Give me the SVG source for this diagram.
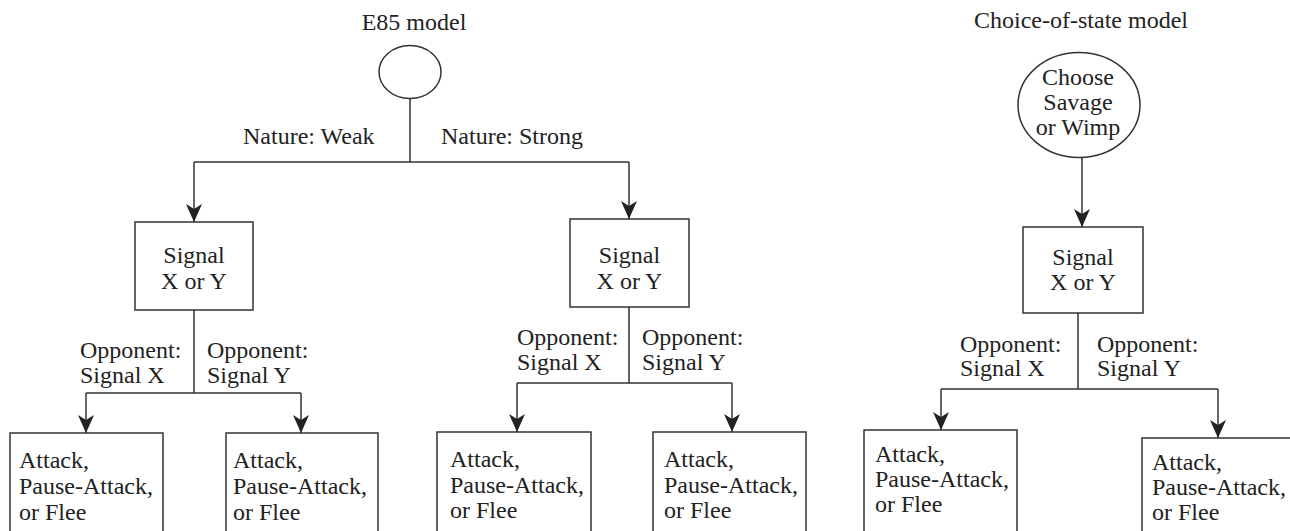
<svg xmlns="http://www.w3.org/2000/svg" width="1290" height="531" viewBox="0 0 1290 531">
<style>
text{font-family:"Liberation Serif","Times New Roman",serif;font-size:24px;fill:#222}
.c{text-anchor:middle}
.box{fill:#fff;stroke:#333;stroke-width:1.5}
.ln{fill:none;stroke:#333;stroke-width:1.5}
.ar{fill:none;stroke:#333;stroke-width:1.5;marker-end:url(#arr)}
</style>
<defs>
<marker id="arr" viewBox="0 0 18 16" refX="18" refY="8" markerWidth="18" markerHeight="16" orient="auto" markerUnits="userSpaceOnUse">
<path d="M0,0 L18,8 L0,16 L5,8 Z" fill="#222"/>
</marker>
</defs>
<rect width="1290" height="531" fill="#fff"/>
<g id="titles">
<text class="c" x="414" y="30">E85 model</text>
<text class="c" x="1081" y="28">Choice-of-state model</text>
</g>
<g id="connectors">
<path class="ln" d="M410,98 V162 M194,162 H629"/>
<path class="ar" d="M194,162 V222"/>
<path class="ar" d="M629,162 V219"/>
<path class="ln" d="M194,310 V393 M86,393 H301"/>
<path class="ar" d="M86,393 V433"/>
<path class="ar" d="M301,393 V433"/>
<path class="ln" d="M629,307 V383 M517,383 H732"/>
<path class="ar" d="M517,383 V432"/>
<path class="ar" d="M732,383 V432"/>
<path class="ar" d="M1082,157 V227"/>
<path class="ln" d="M1078,313 V389 M941,389 H1218"/>
<path class="ar" d="M941,389 V430"/>
<path class="ar" d="M1218,389 V438"/>
</g>
<g id="labels">
<text x="243" y="144">Nature: Weak</text>
<text x="441" y="144">Nature: Strong</text>
<text x="80" y="358">Opponent:</text>
<text x="80" y="383">Signal X</text>
<text x="207" y="358">Opponent:</text>
<text x="207" y="383">Signal Y</text>
<text x="517" y="345">Opponent:</text>
<text x="517" y="370">Signal X</text>
<text x="642" y="345">Opponent:</text>
<text x="642" y="370">Signal Y</text>
<text x="960" y="352">Opponent:</text>
<text x="960" y="376">Signal X</text>
<text x="1097" y="352">Opponent:</text>
<text x="1097" y="376">Signal Y</text>
</g>
<g id="nature">
<ellipse class="box" cx="410" cy="72" rx="31" ry="26.5"/>
</g>
<g id="choose">
<ellipse class="box" cx="1079" cy="105" rx="61" ry="52.5"/>
<text class="c" x="1078" y="85">Choose</text>
<text class="c" x="1078" y="110">Savage</text>
<text class="c" x="1078" y="135">or Wimp</text>
</g>
<g id="signalA">
<rect class="box" x="135" y="222" width="118" height="88"/>
<text class="c" x="194" y="263">Signal</text>
<text class="c" x="194" y="289">X or Y</text>
</g>
<g id="signalB">
<rect class="box" x="570" y="219" width="119" height="88"/>
<text class="c" x="629.5" y="263">Signal</text>
<text class="c" x="629.5" y="289">X or Y</text>
</g>
<g id="signalC">
<rect class="box" x="1023" y="227" width="120" height="86"/>
<text class="c" x="1083" y="265">Signal</text>
<text class="c" x="1083" y="290">X or Y</text>
</g>
<g id="actA1">
<rect class="box" x="10" y="433" width="153" height="120"/>
<text x="19" y="468">Attack,</text><text x="19" y="494">Pause-Attack,</text><text x="19" y="520">or Flee</text>
</g>
<g id="actA2">
<rect class="box" x="226" y="433" width="152" height="120"/>
<text x="233" y="468">Attack,</text><text x="233" y="494">Pause-Attack,</text><text x="233" y="520">or Flee</text>
</g>
<g id="actB1">
<rect class="box" x="437" y="432" width="154" height="120"/>
<text x="450" y="467">Attack,</text><text x="450" y="493">Pause-Attack,</text><text x="450" y="518">or Flee</text>
</g>
<g id="actB2">
<rect class="box" x="653" y="432" width="153" height="120"/>
<text x="664" y="467">Attack,</text><text x="664" y="493">Pause-Attack,</text><text x="664" y="518">or Flee</text>
</g>
<g id="actC1">
<rect class="box" x="864" y="430" width="153" height="120"/>
<text x="875" y="462">Attack,</text><text x="875" y="487">Pause-Attack,</text><text x="875" y="512">or Flee</text>
</g>
<g id="actC2">
<rect class="box" x="1142" y="438" width="160" height="120"/>
<text x="1152" y="470">Attack,</text><text x="1152" y="495">Pause-Attack,</text><text x="1152" y="520">or Flee</text>
</g>
</svg>
